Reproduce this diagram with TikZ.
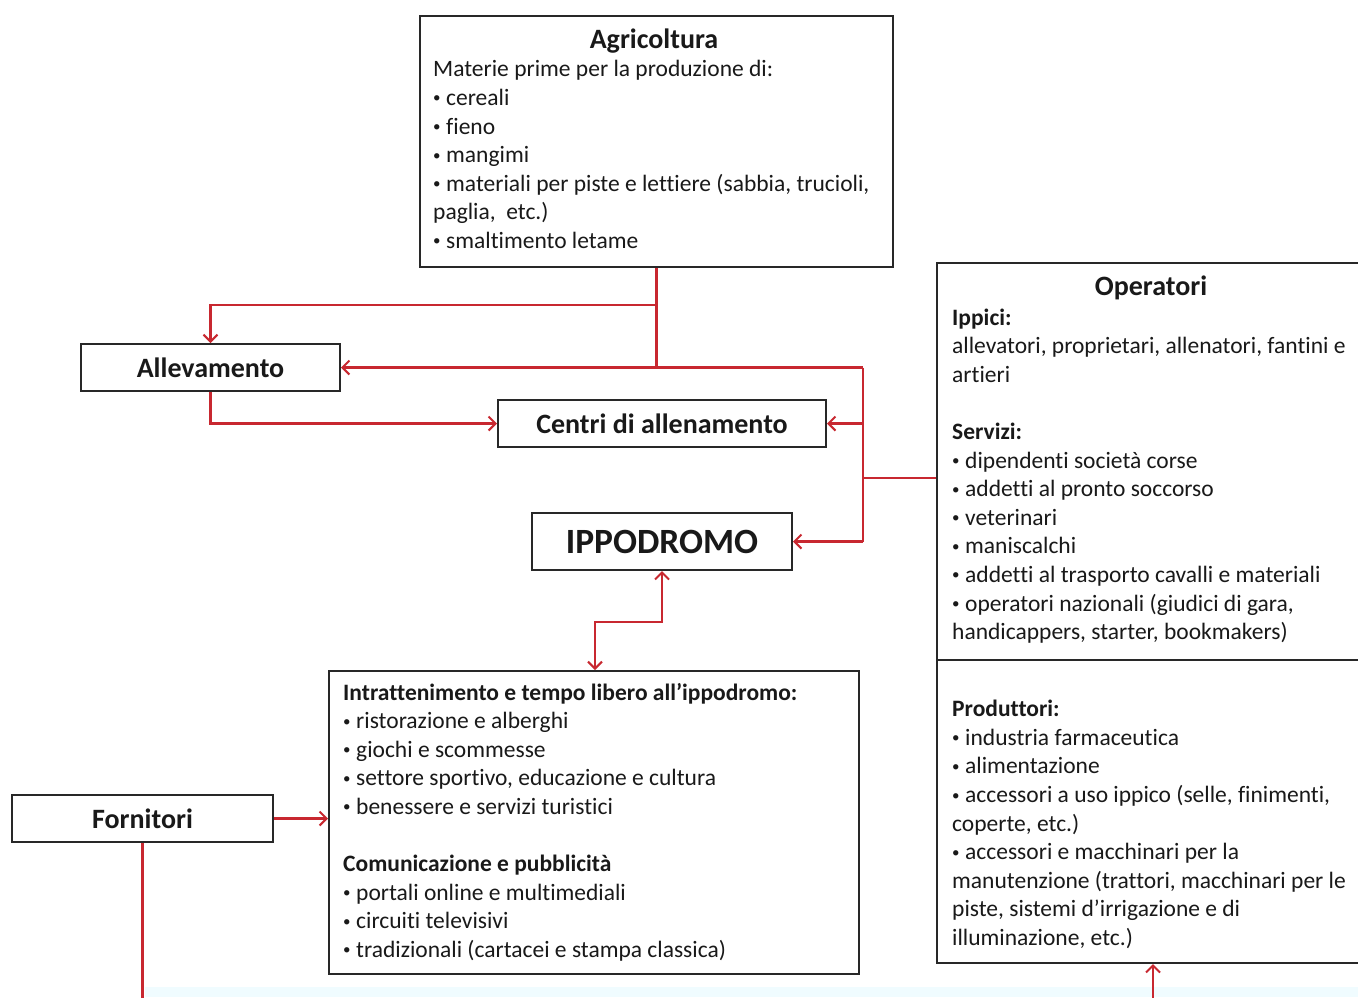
\documentclass[tikz,border=0pt]{standalone}
\usepackage{fontspec}
\setmainfont[Ligatures={NoCommon}]{Carlito}
\usetikzlibrary{arrows.meta}
\definecolor{lnred}{RGB}{200,40,48}
\definecolor{boxline}{RGB}{40,40,40}
\definecolor{txt}{RGB}{25,25,25}
\definecolor{bandcyan}{RGB}{240,252,255}
\newcommand\bul{\makebox[13pt][l]{\raisebox{2.5pt}{\fontsize{15}{15}\selectfont •}}}
\begin{document}
\begin{tikzpicture}[x=1pt,y=-1pt,
  box/.style={draw=boxline, line width=2pt, fill=white, inner sep=0pt, text=txt},
  conn/.style={draw=lnred, line width=2.1pt},
  arr/.style={conn, -{Straight Barb[length=7pt,width=14pt]}},
  body/.style={anchor=base west, inner sep=0pt, text=txt, font=\fontsize{23.5}{28.6}\selectfont},
  ttl/.style={anchor=base, inner sep=0pt, text=txt, font=\fontsize{28}{32}\selectfont\bfseries},
  onebox/.style={box, font=\fontsize{28}{32}\selectfont\bfseries}]
\clip (0,0) rectangle (1358,997);
\fill[white] (0,0) rectangle (1358,997);
\fill[bandcyan] (145,987) rectangle (1358,997);

% boxes
\node[box, minimum width=473pt, minimum height=251pt] (ag) at (656.5,141.5) {};
\node[box, minimum width=440pt, minimum height=700pt] (op) at (1157,613) {};
\coordinate (dv) at (0,660);
\draw[boxline, line width=2pt] (op.west |- dv) -- (op.east |- dv);
\node[box, minimum width=530pt, minimum height=303pt] (in) at (594,822.5) {};
\node[onebox, minimum width=259pt, minimum height=47pt] (all) at (210.5,367.5) {Allevamento};
\node[onebox, minimum width=328pt, minimum height=47pt] (ce) at (662,423.5) {Centri di allenamento};
\node[box, font=\fontsize{35.5}{40}\selectfont\bfseries, minimum width=260pt, minimum height=57pt] (ip) at (662,541.5) {IPPODROMO};
\node[onebox, minimum width=261pt, minimum height=47pt] (fo) at (142.5,818.5) {Fornitori};

% Agricoltura text
\node[ttl] (agtitle) at (654,48) {Agricoltura};
\foreach \t [count=\i from 0] in {{Materie prime per la produzione di:},{\bul cereali},{\bul fieno},{\bul mangimi},{\bul materiali per piste e lettiere (sabbia, trucioli,},{paglia,\ \ etc.)},{\bul smaltimento letame}}
  \node[body] (agt\i) at (433,{76.8+28.6*\i}) {\t};

% Operatori text
\node[ttl] (optitle) at (1151,295) {Operatori};
\foreach \t [count=\i from 0] in {{\textbf{Ippici:}},{allevatori, proprietari, allenatori, fantini e},{artieri}}
  \node[body] (opa\i) at (952,{325+28.6*\i}) {\t};
\foreach \t [count=\i from 0] in {{\textbf{Servizi:}},{\bul dipendenti società corse},{\bul addetti al pronto soccorso},{\bul veterinari},{\bul maniscalchi},{\bul addetti al trasporto cavalli e materiali},{\bul operatori nazionali (giudici di gara,},{handicappers, starter, bookmakers)}}
  \node[body] (opb\i) at (952,{439.4+28.6*\i}) {\t};
\foreach \t [count=\i from 0] in {{\textbf{Produttori:}},{\bul industria farmaceutica},{\bul alimentazione},{\bul accessori a uso ippico (selle, finimenti,},{coperte, etc.)},{\bul accessori e macchinari per la},{manutenzione (trattori, macchinari per le},{piste, sistemi d’irrigazione e di},{illuminazione, etc.)}}
  \node[body] (opc\i) at (952,{716.7+28.6*\i}) {\t};

% Intrattenimento text
\foreach \t [count=\i from 0] in {{\textbf{Intrattenimento e tempo libero all’ippodromo:}},{\bul ristorazione e alberghi},{\bul giochi e scommesse},{\bul settore sportivo, educazione e cultura},{\bul benessere e servizi turistici}}
  \node[body] (ina\i) at (343,{700+28.6*\i}) {\t};
\foreach \t [count=\i from 0] in {{\textbf{Comunicazione e pubblicità}},{\bul portali online e multimediali},{\bul circuiti televisivi},{\bul tradizionali (cartacei e stampa classica)}}
  \node[body] (inb\i) at (343,{871.6+28.6*\i}) {\t};

% connectors
\coordinate (j1) at (656.5,305);
\coordinate (j2) at (656.5,367.5);
\coordinate (v1) at (863,367.5);
\coordinate (v2) at (863,541.5);
\coordinate (k) at (863,478);
\coordinate (m) at (595,622);
\coordinate (fb) at (142.5,1000);
\coordinate (ob) at (1153,1000);

\draw[arr] (ag.south) -- (j1) -| (all.north);
\draw[conn] (j1) -- (j2);
\draw[arr] (v1) -- (all.east);
\draw[conn] (v1) -- (v2);
\draw[arr] (v1 |- ce.east) -- (ce.east);
\draw[arr] (v2) -- (ip.east);
\draw[conn] (op.west |- k) -- (k);
\draw[arr] (all.south) |- (ce.west);
\draw[conn, {Straight Barb[length=7pt,width=14pt]}-{Straight Barb[length=7pt,width=14pt]}] (ip.south) |- (m) -- (m |- in.north);
\draw[arr] (fo.east) -- (fo.east -| in.west);
\draw[conn] (fo.south) -- (fb);
\draw[arr] (ob) -- (ob |- op.south);
\end{tikzpicture}
\end{document}
